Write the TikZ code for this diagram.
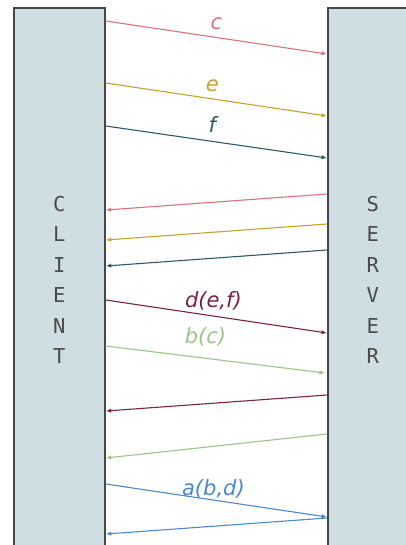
\documentclass[tikz,border=0pt]{standalone}
\usepackage{fontspec}
\setmainfont{DejaVu Sans}
\newfontfamily\lettersfont{DejaVu Sans Mono}
\usetikzlibrary{arrows.meta}

\definecolor{boxfill}{HTML}{CFDEE2}
\definecolor{boxline}{HTML}{474747}
\definecolor{letters}{HTML}{4A4A4A}
\definecolor{cred}{HTML}{D9737B}
\definecolor{cgold}{HTML}{C9A02A}
\definecolor{cteal}{HTML}{2D5961}
\definecolor{cmaroon}{HTML}{7A2246}
\definecolor{cgreen}{HTML}{9DC389}
\definecolor{cblue}{HTML}{4A88C9}

\begin{document}
\begin{tikzpicture}[x=1pt,y=-1pt,
  party/.style={draw=boxline, fill=boxfill, line width=1.8pt, minimum width=91pt,
    minimum height=560pt, anchor=north west, inner sep=0pt},
  msg/.style={-{Latex[length=5.5pt,width=4.5pt]}, line width=1.1pt},
  lbl/.style={midway, anchor=base, font=\fontsize{21}{25}\selectfont\itshape},
  word/.style={align=center, inner sep=0pt, anchor=north, text=letters,
    font=\lettersfont\fontsize{20.5}{30.4}\selectfont}]

\useasboundingbox (0,0) rectangle (406,545);

% Cliente y servidor
\node[party] (client) at (13,7) {};
\node[party, minimum width=90pt] (server) at (327,7) {};
\node[word] (clientword) at (client.north |- 0,196) {C\\L\\I\\E\\N\\T};
\node[word] (serverword) at (server.north |- 0,196) {S\\E\\R\\V\\E\\R};

% Peticiones c, e, f
\draw[msg, cred] (client.east |- 0,21) -- (server.west |- 0,54) node[lbl, text=cred, yshift=7.5pt] {c};
\draw[msg, cgold] (client.east |- 0,83) -- (server.west |- 0,116) node[lbl, text=cgold, yshift=7.5pt, xshift=-4pt] {e};
\draw[msg, cteal] (client.east |- 0,126) -- (server.west |- 0,158) node[lbl, text=cteal, yshift=9pt, xshift=-4pt] {f};

% Respuestas
\draw[msg, cred] (server.west |- 0,194) -- (client.east |- 0,210);
\draw[msg, cgold] (server.west |- 0,224) -- (client.east |- 0,240);
\draw[msg, cteal] (server.west |- 0,250) -- (client.east |- 0,266);

% Peticiones d(e,f) y b(c)
\draw[msg, cmaroon] (client.east |- 0,300) -- (server.west |- 0,333) node[lbl, text=cmaroon, yshift=9.5pt, xshift=-3pt] {d(e,f)};
\draw[msg, cgreen] (client.east |- 0,346) -- ([xshift=-2pt]server.west |- 0,373) node[lbl, text=cgreen, yshift=16pt, xshift=-10pt] {b(c)};

% Respuestas
\draw[msg, cmaroon] (server.west |- 0,395) -- (client.east |- 0,411);
\draw[msg, cgreen] (server.west |- 0,434) -- (client.east |- 0,458);

% Peticion a(b,d) y respuesta
\draw[msg, cblue] (client.east |- 0,484) -- (server.west |- 0,517) node[lbl, text=cblue, yshift=5.5pt, xshift=-3pt] {a(b,d)};
\draw[msg, cblue] (server.west |- 0,518) -- (client.east |- 0,534);

\end{tikzpicture}
\end{document}
